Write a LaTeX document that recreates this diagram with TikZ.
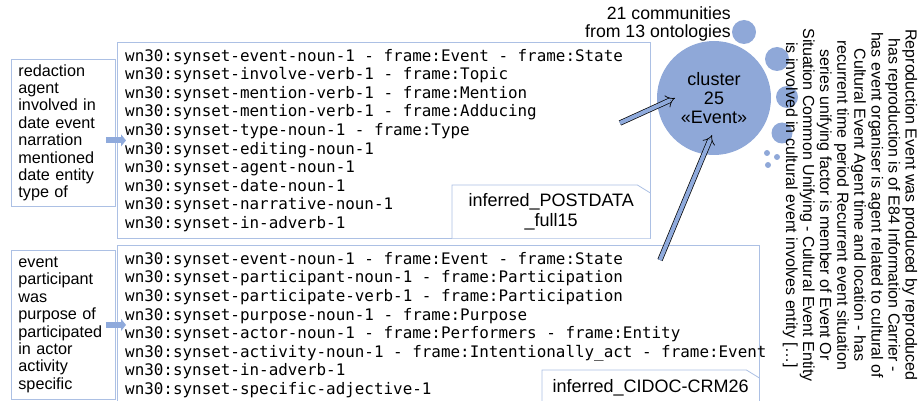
\documentclass[tikz,border=0pt]{standalone}
\usepackage{fontspec}
\setmainfont{Liberation Sans}
\setmonofont{DejaVu Sans Mono}
\usetikzlibrary{arrows.meta,calc}
\definecolor{boxline}{RGB}{172,192,228}
\definecolor{circfill}{RGB}{143,168,216}
\definecolor{arrfill}{RGB}{143,170,220}
\begin{document}
\begin{tikzpicture}[x=1pt,y=-1pt,
  codebox/.style={draw=boxline, line width=0.8pt, anchor=north west, inner sep=0pt},
  codetext/.style={anchor=west, inner sep=0pt, align=left, font={\ttfamily\fontsize{15.9}{18.56}\selectfont}},
  wordbox/.style={draw=boxline, line width=0.8pt, anchor=north west, inner xsep=7pt, inner ysep=0pt, align=left, text width=90pt, minimum width=104pt, font={\fontsize{16.2}{17.4}\selectfont}},
  tagbox/.style={anchor=north west, inner sep=0pt, align=center, font={\fontsize{18}{20}\selectfont}},
  tagline/.style={draw=boxline, fill=white, line width=0.8pt},
  blob/.style={circle, fill=circfill, draw=none, inner sep=0pt},
  smallarrow/.style={draw=arrfill, line width=6pt, -{Triangle[length=5pt,width=12pt]}},
  bigarrow/.style={draw=black, line width=0.7pt, double=arrfill, double distance=4pt, -{Implies[scale=1.35]}},
  plain/.style={inner sep=0pt}
]
\useasboundingbox (0,0) rectangle (919,401);

% left word boxes
\node[wordbox, minimum height=147pt] (w1) at (11,59) {redaction\\agent\\involved in\\date event\\narration\\mentioned\\date entity\\type of};
\node[wordbox, minimum height=149pt] (w2) at (11,250) {event\\participant\\was\\purpose of\\participated\\in actor\\activity\\specific};

% code boxes
\node[codebox, minimum width=533pt, minimum height=196pt] (k1) at (117,42) {};
\node[codetext] (ct1) at ($(k1.west)+(8,0)$) {wn30:synset-event-noun-1 - frame:Event - frame:State\\
wn30:synset-involve-verb-1 - frame:Topic\\
wn30:synset-mention-verb-1 - frame:Mention\\
wn30:synset-mention-verb-1 - frame:Adducing\\
wn30:synset-type-noun-1 - frame:Type\\
wn30:synset-editing-noun-1\\
wn30:synset-agent-noun-1\\
wn30:synset-date-noun-1\\
wn30:synset-narrative-noun-1\\
wn30:synset-in-adverb-1};
\node[codebox, minimum width=642pt, minimum height=159pt] (k2) at (117,245) {};
\node[codetext] (ct2) at ($(k2.west)+(8,0)$) {wn30:synset-event-noun-1 - frame:Event - frame:State\\
wn30:synset-participant-noun-1 - frame:Participation\\
wn30:synset-participate-verb-1 - frame:Participation\\
wn30:synset-purpose-noun-1 - frame:Purpose\\
wn30:synset-actor-noun-1 - frame:Performers - frame:Entity\\
wn30:synset-activity-noun-1 - frame:Intentionally\_act - frame:Event\\
wn30:synset-in-adverb-1\\
wn30:synset-specific-adjective-1};

% tags
\node[tagbox, minimum width=198pt, minimum height=53pt] (g1) at (452,185) {};
\filldraw[tagline] (g1.south west) -- (g1.north west) -- ($(g1.north east)+(-13,0)$) -- ($(g1.north east)+(0,8)$) -- (g1.south east);
\node[tagbox, anchor=center] at (g1.center) {inferred\_POSTDATA\\\_full15};
\node[tagbox, minimum width=217pt, minimum height=36pt] (g2) at (542,370) {};
\filldraw[tagline] (g2.south west) -- (g2.north west) -- ($(g2.north east)+(-13,0)$) -- ($(g2.north east)+(0,8)$) -- (g2.south east);
\node[tagbox, anchor=center] at (g2.center) {inferred\_CIDOC-CRM26};

% small arrows
\draw[smallarrow] ($(w1.east |- k1.west)+(-10,0)$) -- ($(k1.west)+(9,0)$);
\draw[smallarrow] ($(w2.east |- k2.west)+(-10,0)$) -- ($(k2.west)+(9,0)$);

% circles
\node[blob, minimum size=114pt] (cluster) at (714,98) {};
\node[blob, minimum size=24pt] (b1) at (744,32) {};
\node[blob, minimum size=24pt] (b2) at (777,59) {};
\node[blob, minimum size=22pt] (b3) at (787,97) {};
\node[blob, minimum size=21pt] (b4) at (782,133) {};
\node[blob, minimum size=6pt] (b5) at (767,153) {};
\node[blob, minimum size=6pt] (b6) at (777,157) {};
\node[blob, minimum size=6pt] (b7) at (768,165) {};

\node[plain, align=center, font={\fontsize{18}{19}\selectfont}] (ctext) at (cluster.center) {cluster\\25\\«Event»};
\node[plain, align=right, anchor=east, font={\fontsize{17.7}{18}\selectfont}] (count) at (731,24) {21 communities\\from 13 ontologies};

% big arrows
\coordinate (t1) at (620,123);
\coordinate (h1) at ($(cluster.center)+(-39,0)$);
\coordinate (t2) at (660,260);
\coordinate (h2) at ($(cluster.center)+(-2,37)$);
\draw[bigarrow] (t1) -- (h1);
\draw[bigarrow] (t2) -- (h2);

% rotated text
\node[plain, rotate=-90, align=center, font={\fontsize{16}{17.1}\selectfont}] (desc) at (850,205) {Reproduction Event was produced by reproduced\\
has reproduction is of E84 Information Carrier -\\
has event organiser is agent related to cultural of\\
Cultural Event Agent time and location - has\\
recurrent time period Recurrent event situation\\
series unifying factor is member of Event Or\\
Situation Common Unifying - Cultural Event Entity\\
is involved in cultural event involves entity […]};
\end{tikzpicture}
\end{document}
